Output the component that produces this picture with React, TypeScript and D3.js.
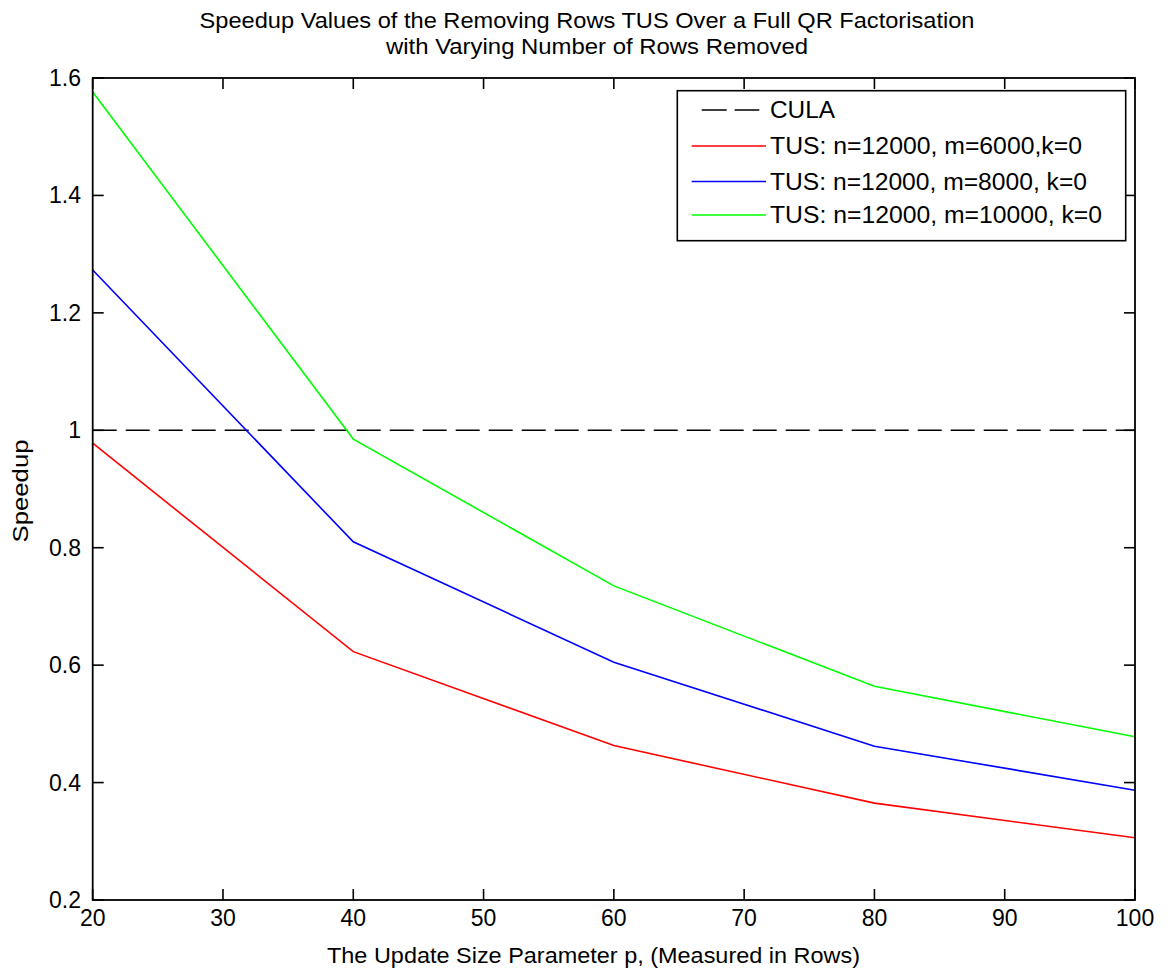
import React from "react";
import * as d3 from "d3";

const xValues = [20, 40, 60, 80, 100];
const redValues = [0.978, 0.623, 0.463, 0.365, 0.306];
const blueValues = [1.273, 0.81, 0.605, 0.462, 0.387];
const greenValues = [1.576, 0.985, 0.735, 0.564, 0.478];
const culaValue = 1.0;
const xTicks = [20, 30, 40, 50, 60, 70, 80, 90, 100];
const yTicks = [0.2, 0.4, 0.6, 0.8, 1.0, 1.2, 1.4, 1.6];
const yTickLabels = ["0.2", "0.4", "0.6", "0.8", "1", "1.2", "1.4", "1.6"];
const seriesNames = [
  "TUS: n=12000, m=6000,k=0",
  "TUS: n=12000, m=8000, k=0",
  "TUS: n=12000, m=10000, k=0",
];
const seriesColors = ["#ff0000", "#0000ff", "#00ff00"];
const titleLines = [
  "Speedup Values of the Removing Rows TUS Over a Full QR Factorisation",
  "with Varying Number of Rows Removed",
];
const xLabel = "The Update Size Parameter p, (Measured in Rows)";
const yLabel = "Speedup";

export default function App() {
  const W = 1174, H = 974;
  const L = 92.7, R = 1135, T = 78, B = 900;
  const x = d3.scaleLinear().domain([20, 100]).range([L, R]);
  const y = d3.scaleLinear().domain([0.2, 1.6]).range([B, T]);
  const font = "'Liberation Sans', Arial, Helvetica, sans-serif";
  const series = [redValues, blueValues, greenValues];
  const line = d3
    .line<number>()
    .x((_, i) => x(xValues[i]))
    .y((d) => y(d));
  const tickLen = 11;
  const legendRowsY = [146, 181.5, 215];
  const legendWidths = [312, 317, 332];

  return (
    <svg width={W} height={H} style={{ position: "absolute", left: 0, top: 0, background: "#fff" }} fontFamily={font}>
      <rect x={0} y={0} width={W} height={H} fill="#fff" />
      {/* title */}
      <text x={587} y={28} textAnchor="middle" fontSize={22} textLength={775} lengthAdjust="spacingAndGlyphs">
        {titleLines[0]}
      </text>
      <text x={597} y={54} textAnchor="middle" fontSize={22} textLength={422} lengthAdjust="spacingAndGlyphs">
        {titleLines[1]}
      </text>

      {/* data lines */}
      <line x1={L} x2={R} y1={y(culaValue)} y2={y(culaValue)} stroke="#000" strokeWidth={1.6} strokeDasharray="24,9" />
      {series.map((s, i) => (
        <path key={i} d={line(s) || ""} fill="none" stroke={seriesColors[i]} strokeWidth={1.6} />
      ))}

      {/* axes box and ticks */}
      <rect x={L} y={T} width={R - L} height={B - T} fill="none" stroke="#000" strokeWidth={1.8} />
      {xTicks.map((t) => (
        <g key={"x" + t}>
          <line x1={x(t)} x2={x(t)} y1={B} y2={B - tickLen} stroke="#000" strokeWidth={1.6} />
          <line x1={x(t)} x2={x(t)} y1={T} y2={T + tickLen} stroke="#000" strokeWidth={1.6} />
          <text x={x(t)} y={926} textAnchor="middle" fontSize={23}>
            {String(t)}
          </text>
        </g>
      ))}
      {yTicks.map((t, i) => (
        <g key={"y" + t}>
          <line x1={L} x2={L + tickLen} y1={y(t)} y2={y(t)} stroke="#000" strokeWidth={1.6} />
          <line x1={R} x2={R - tickLen} y1={y(t)} y2={y(t)} stroke="#000" strokeWidth={1.6} />
          <text x={81} y={y(t) + 8} textAnchor="end" fontSize={23}>
            {yTickLabels[i]}
          </text>
        </g>
      ))}

      {/* axis labels */}
      <text x={593.5} y={963} textAnchor="middle" fontSize={22} textLength={533} lengthAdjust="spacingAndGlyphs">
        {xLabel}
      </text>
      <text
        transform={`translate(28, 491) rotate(-90)`}
        textAnchor="middle"
        fontSize={22}
        textLength={103}
        lengthAdjust="spacingAndGlyphs"
      >
        {yLabel}
      </text>

      {/* legend */}
      <rect x={677.3} y={90.7} width={448.4} height={150} fill="#fff" stroke="#000" strokeWidth={1.6} />
      <line x1={701.7} x2={759.3} y1={110} y2={110} stroke="#000" strokeWidth={1.6} strokeDasharray="25,8" />
      <text x={770} y={118} fontSize={23} textLength={65} lengthAdjust="spacingAndGlyphs">
        CULA
      </text>
      {seriesNames.map((n, i) => (
        <g key={n}>
          <line x1={691.7} x2={766} y1={legendRowsY[i]} y2={legendRowsY[i]} stroke={seriesColors[i]} strokeWidth={1.6} />
          <text x={770} y={legendRowsY[i] + 8} fontSize={23} textLength={legendWidths[i]} lengthAdjust="spacingAndGlyphs">
            {n}
          </text>
        </g>
      ))}
    </svg>
  );
}
